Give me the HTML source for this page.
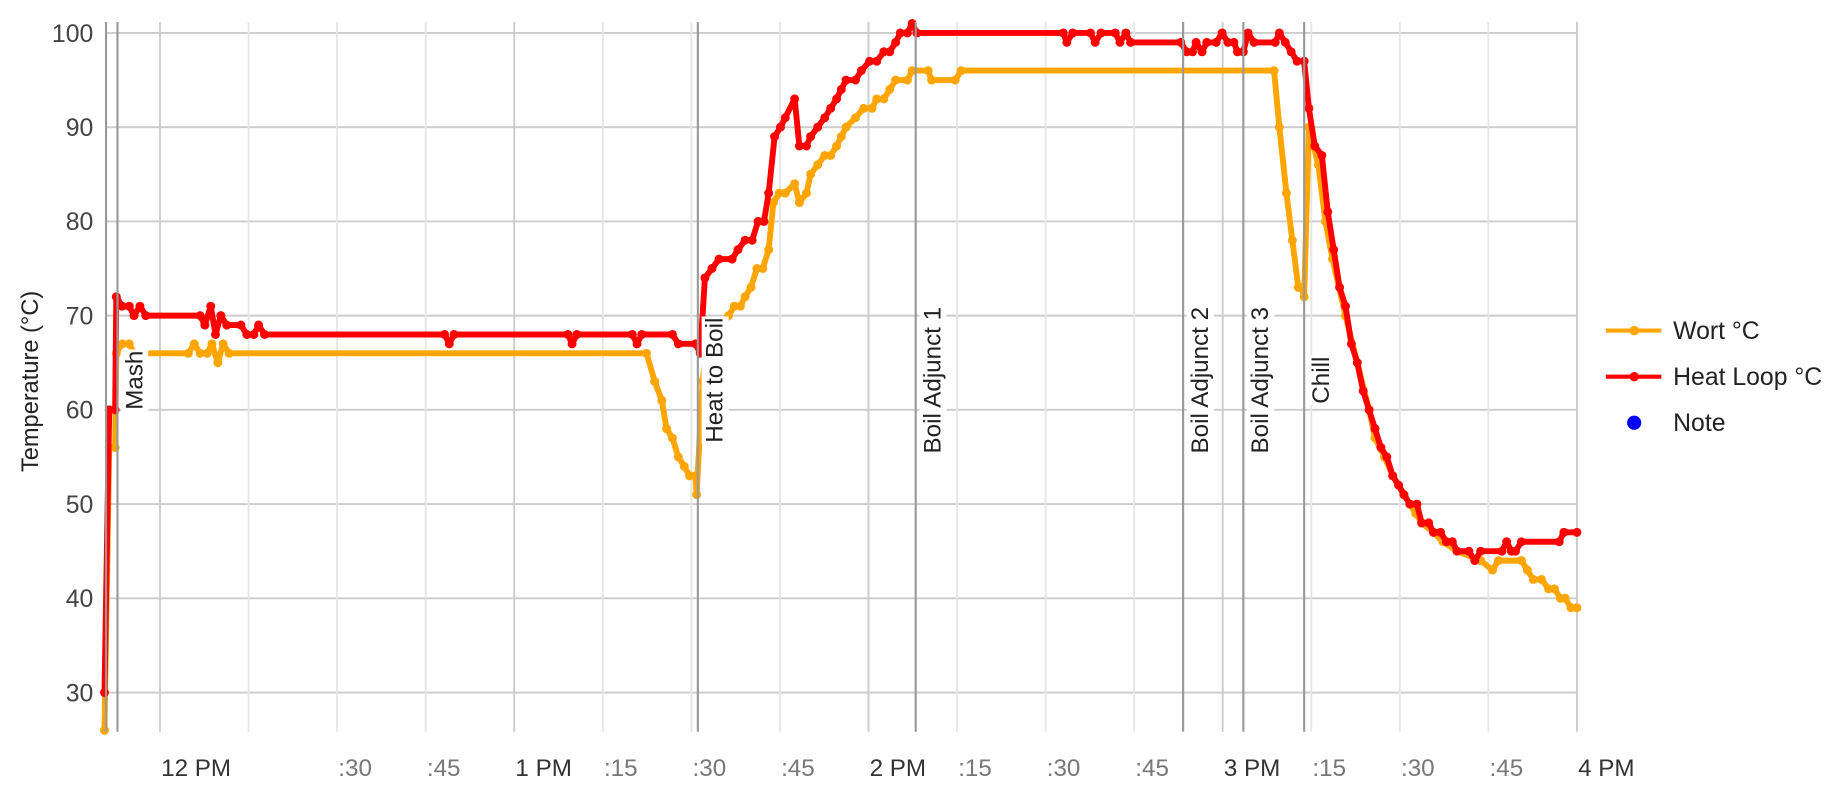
<!DOCTYPE html>
<html><head><meta charset="utf-8"><style>
html,body{margin:0;padding:0;background:#fff;}
svg{display:block;font-family:"Liberation Sans",sans-serif;}
</style></head><body>
<svg id="chart" width="1842" height="792" viewBox="0 0 1560 670.75" xmlns="http://www.w3.org/2000/svg">
<g id="grid"></g>
<g id="notes"></g>
<g id="series"></g>
<g id="axes"></g>
<text transform="translate(32,323) rotate(-90)" text-anchor="middle" font-size="20" fill="#222">Temperature (°C)</text>
<g>
  <g>
    <line x1="1360" y1="280" x2="1407" y2="280" stroke="#ffa500" stroke-width="3.5"/>
    <circle cx="1384" cy="280" r="4" fill="#ffa500"/>
    <text x="1417" y="287" font-size="21" fill="#222">Wort °C</text>
  </g>
  <g>
    <line x1="1360" y1="319" x2="1407" y2="319" stroke="#ff0000" stroke-width="3.5"/>
    <circle cx="1384" cy="319" r="4" fill="#ff0000"/>
    <text x="1417" y="326" font-size="21" fill="#222">Heat Loop °C</text>
  </g>
  <g>
    <circle cx="1384" cy="358" r="6" fill="#0000ff"/>
    <text x="1417" y="365" font-size="21" fill="#222">Note</text>
  </g>
</g>
</svg>
<script>
// minutes relative to 12:00 PM
const wortTimes=[-9.4,-8.6,-7.6,-7.4,-6.4,-5.2,-4.4,4.8,5.8,6.8,8.0,8.8,9.8,10.7,11.7,82.4,83.8,85.0,85.8,86.8,87.8,88.8,89.7,90.7,90.9,91.9,92.5,96.3,97.3,98.3,99.1,100.1,101.1,102.1,103.1,103.9,104.9,105.9,107.5,108.3,109.5,110.2,111.4,112.6,113.6,114.6,115.4,116.2,117.8,119.2,120.6,121.4,122.6,123.6,124.6,126.6,127.4,130.1,130.7,134.7,135.7,188.7,189.6,190.8,191.8,192.8,193.4,193.8,194.6,196.2,197.4,198.6,200.8,204.8,205.8,207.4,208.8,210.7,212.7,213.7,215.7,217.3,219.7,223.7,225.7,226.7,230.6,231.6,232.6,234.0,235.2,236.2,237.2,238.0,239.0,240];
const wortValues=[26,56,56,66,67,67,66,66,67,66,66,67,65,67,66,66,63,61,58,57,55,54,53,53,51,63,66,70,71,71,72,73,75,75,77,82,83,83,84,82,83,85,86,87,87,88,89,90,91,92,92,93,93,94,95,95,96,96,95,95,96,96,90,83,78,73,73,72,90,86,80,76,70,60,57,55,53,51,49,48,47,46,45,44,43,44,44,43,42,42,41,41,40,40,39,39];
const heatTimes=[-9.4,-8.6,-7.6,-7.4,-6.4,-5.2,-4.4,-3.4,-2.4,6.8,7.6,8.6,9.4,10.3,11.3,13.7,14.7,15.9,16.7,17.7,48.2,49.0,49.8,69.1,69.8,70.6,80.0,80.8,81.6,86.8,87.8,90.7,91.5,92.3,93.5,94.7,96.9,97.9,99.1,100.3,101.3,102.3,103.1,104.1,105.1,105.9,107.5,108.3,109.5,110.2,111.4,112.6,113.6,114.6,115.4,116.2,117.8,118.8,120.2,121.4,122.6,123.6,124.6,125.4,126.6,127.4,128.2,153.0,153.6,154.6,157.6,158.4,159.4,161.8,162.6,163.6,164.4,172.9,173.9,174.9,175.5,176.5,177.3,178.9,179.9,180.9,181.9,182.5,183.5,184.3,185.3,188.9,189.6,190.6,191.6,192.6,193.8,194.6,195.6,196.8,197.8,198.8,199.8,200.8,201.8,202.8,203.8,204.8,205.8,206.8,207.8,208.8,209.8,210.7,211.7,212.9,213.7,214.9,215.7,216.9,217.9,218.9,219.7,221.7,222.7,223.7,227.3,228.1,228.9,229.6,230.6,237.0,237.8,240];
const heatValues=[30,60,60,72,71,71,70,71,70,70,69,71,68,70,69,69,68,68,69,68,68,67,68,68,67,68,68,67,68,68,67,67,66,74,75,76,76,77,78,78,80,80,83,89,90,91,93,88,88,89,90,91,92,93,94,95,95,96,97,97,98,98,99,100,100,101,100,100,99,100,100,99,100,100,99,100,99,99,98,98,99,98,99,99,100,99,99,98,98,100,99,99,100,99,98,97,97,92,88,87,81,77,73,71,67,65,62,60,58,56,55,53,52,51,50,50,48,48,47,47,46,46,45,45,44,45,45,46,45,45,46,46,47,47];
const noteLabels=["Mash","Heat to Boil","Boil Adjunct 1","Boil Adjunct 2","Boil Adjunct 3","Chill"];
const noteTimes=[-7.2,91.1,128.0,173.3,183.5,193.8];
const yTicks=[30,40,50,60,70,80,90,100];
const xTickMinutes=[0,15,30,45,60,75,90,105,120,135,150,165,180,195,210,225,240];
const xTickLabels=["12 PM","",":30",":45","1 PM",":15",":30",":45","2 PM",":15",":30",":45","3 PM",":15",":30",":45","4 PM"];

const NS="http://www.w3.org/2000/svg";
const X0=135.5, PXMIN=5.0, LEFT=89.8, RIGHT=1335.5, TOP=18.6, BOTTOM=619.7;
function xs(m){return X0+m*PXMIN;}
function ys(v){return 27.9+(100-v)*7.98;}
function mk(tag,attrs,parent){const e=document.createElementNS(NS,tag);for(const k in attrs)e.setAttribute(k,attrs[k]);parent.appendChild(e);return e;}
const grid=document.getElementById('grid'),axes=document.getElementById('axes'),notes=document.getElementById('notes'),series=document.getElementById('series');

yTicks.forEach(v=>{
  const l=mk('line',{x1:LEFT,x2:RIGHT,y1:ys(v),y2:ys(v),stroke:'#cccccc','stroke-width':1.6},grid);
  
  
  const t=mk('text',{x:79,y:ys(v)+7.5,'text-anchor':'end','font-size':21,fill:'#444'},axes);
  
  
  t.textContent=v;
});
xTickMinutes.forEach((m,i)=>{
  const hour=m%60===0;
  const l=mk('line',{x1:xs(m),x2:xs(m),y1:TOP,y2:BOTTOM,stroke:hour?'#cccccc':'#e6e6e6','stroke-width':1.6},grid);
  
  
  if(xTickLabels[i]){
    const t=mk('text',{x:xs(m)+1,y:657,'font-size':20.5,fill:hour?'#333':'#777'},axes);
    
    
    t.textContent=xTickLabels[i];
  }
});
const ax=mk('line',{x1:LEFT,x2:LEFT,y1:TOP,y2:BOTTOM,stroke:'#999','stroke-width':1.8},axes);



noteTimes.forEach((m,i)=>{
  const l=mk('line',{x1:xs(m),x2:xs(m),y1:TOP,y2:BOTTOM,stroke:'#999','stroke-width':1.8},notes);
  
  
});

function drawSeries(times,vals,color,name){
  const g=mk('g',{},series);
  
  
  const d=times.map((t,i)=>(i?'L':'M')+xs(t).toFixed(1)+','+ys(vals[i]).toFixed(1)).join(' ');
  const p=mk('path',{d:d,fill:'none',stroke:color,'stroke-width':5,'stroke-linejoin':'round'},g);
  
  
  times.forEach((t,i)=>{
    const c=mk('circle',{cx:xs(t),cy:ys(vals[i]),r:3.8,fill:color},g);
    
    
  });
}
drawSeries(wortTimes,wortValues,'#ffa500','wort-series');
drawSeries(heatTimes,heatValues,'#ff0000','heat-loop-series');

noteTimes.forEach((m,i)=>{
  const g=mk('g',{transform:'translate('+(xs(m)+3)+',322) rotate(-90)'},notes);
  
  
  const t=mk('text',{x:0,y:18,'text-anchor':'middle','font-size':20.5,fill:'#222'},g);
  t.textContent=noteLabels[i];
  const bb=t.getBBox();
  const r=document.createElementNS(NS,'rect');
  r.setAttribute('x',bb.x-1);r.setAttribute('y',bb.y);r.setAttribute('width',bb.width+2);r.setAttribute('height',bb.height);r.setAttribute('fill','#fff');
  g.insertBefore(r,t);
});
notes.parentNode.appendChild(notes);
</script>
</body></html>
